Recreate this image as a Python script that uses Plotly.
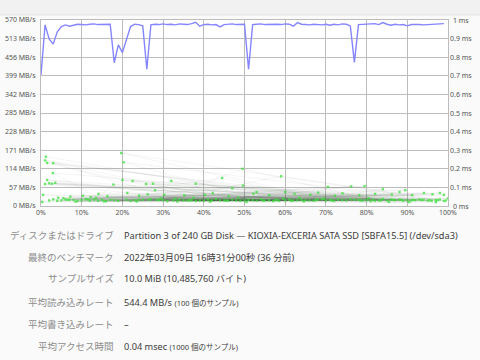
import plotly.graph_objects as go

# ---------------- data ----------------
x_ticks = [0, 10, 20, 30, 40, 50, 60, 70, 80, 90, 100]
x_tick_labels = ["0%", "10%", "20%", "30%", "40%", "50%", "60%", "70%", "80%", "90%", "100%"]
rate_ticks = [0, 57, 114, 171, 228, 285, 342, 399, 456, 513, 570]
rate_tick_labels = ["0 MB/s", "57 MB/s", "114 MB/s", "171 MB/s", "228 MB/s", "285 MB/s",
                    "342 MB/s", "399 MB/s", "456 MB/s", "513 MB/s", "570 MB/s"]
ms_ticks = [0, 0.1, 0.2, 0.3, 0.4, 0.5, 0.6, 0.7, 0.8, 0.9, 1.0]
ms_tick_labels = ["0 ms", "0.1 ms", "0.2 ms", "0.3 ms", "0.4 ms", "0.5 ms",
                  "0.6 ms", "0.7 ms", "0.8 ms", "0.9 ms", "1 ms"]

# read rate (MB/s) for the 100 samples, sample i at i %
read_pos = list(range(100))
read_rate = [
    402, 555, 512, 496, 534, 550, 555, 551, 554, 557,
    556, 555, 557, 558, 556, 557, 558, 557, 439, 494,
    470, 510, 550, 557, 556, 552, 419, 555, 557, 556,
    558, 556, 557, 555, 558, 557, 556, 559, 563, 551,
    556, 557, 555, 556, 549, 556, 557, 558, 556, 557,
    557, 419, 556, 557, 558, 556, 557, 558, 557, 556,
    558, 557, 551, 562, 557, 556, 555, 557, 556, 555,
    557, 554, 557, 555, 558, 557, 552, 440, 556, 557,
    558, 557, 559, 556, 562, 557, 554, 557, 555, 556,
    552, 556, 557, 556, 555, 556, 557, 556, 557, 559,
]

# access time samples (position %, ms), in the order they were taken
access_pos = [
    1.2, 63, 14, 88, 35, 3.0, 76, 22, 51, 95,
    8, 67, 41, 1.5, 83, 29, 57, 11, 92, 46,
    1.0, 71, 19.7, 99, 33, 5, 79, 25, 60, 16,
    2.9, 86, 38, 54, 20.3, 97, 12, 69, 44, 81,
    1.5, 49, 27, 91, 6, 74, 36, 58, 18, 84,
    2.0, 65, 31, 98, 20.0, 53, 9, 78, 43, 89,
    3.5, 61, 23, 94, 39, 1.0, 72, 47, 15, 87,
    2.7, 56, 34, 96, 22.5, 68, 4, 80, 48, 13,
    17.8, 90, 27.5, 64, 28.0, 85, 32.0, 52, 25.8, 93,
    38.0, 70, 44.5, 7, 47.0, 82, 49.5, 30, 59.0, 99.5,
    49.6, 10, 76.2, 42, 79.5, 24, 70.5, 66, 84.0, 3,
    89.5, 37, 98.0, 55, 53.0, 21, 60.0, 75, 0.5, 93.5,
    4.2, 62, 7.2, 86.5, 10.3, 45, 12.2, 77, 14.1, 58.5,
    16.3, 91.5, 21.2, 50, 24.1, 73, 26.2, 97.5, 30.3, 40,
    35.2, 81.5, 40.3, 2, 42.2, 67.5, 46.1, 19, 52.2, 88.5,
    56.1, 32.5, 62.3, 95.5, 66.2, 6.5, 68.1, 54.5, 72.2, 28.5,
    74.1, 83.5, 78.2, 11.5, 82.1, 61.5, 86.2, 36.5, 88.1, 71.5,
    91.2, 17, 94.1, 45.5, 96.2, 26.5, 99.0, 57.5, 0.3, 78.5,
    33.5, 90.5, 8.5, 64.5, 50.5, 23.5, 97, 41.5, 15.5, 85.5,
    5.5, 69.5, 37.5, 100, 13.5, 59.5, 48.5, 80.5, 29.5, 63.5,
]
access_ms = [
    0.265, 0.031, 0.028, 0.034, 0.030, 0.230, 0.036, 0.027, 0.033, 0.029,
    0.032, 0.028, 0.035, 0.232, 0.030, 0.033, 0.026, 0.037, 0.031, 0.029,
    0.245, 0.033, 0.285, 0.027, 0.038, 0.030, 0.029, 0.034, 0.031, 0.026,
    0.177, 0.035, 0.027, 0.036, 0.235, 0.032, 0.029, 0.037, 0.031, 0.026,
    0.140, 0.028, 0.036, 0.030, 0.035, 0.031, 0.029, 0.034, 0.031, 0.038,
    0.122, 0.030, 0.026, 0.035, 0.140, 0.029, 0.027, 0.033, 0.037, 0.028,
    0.125, 0.035, 0.031, 0.033, 0.029, 0.118, 0.027, 0.034, 0.033, 0.031,
    0.120, 0.031, 0.035, 0.028, 0.135, 0.034, 0.028, 0.032, 0.030, 0.034,
    0.115, 0.030, 0.120, 0.033, 0.085, 0.029, 0.135, 0.031, 0.118, 0.035,
    0.120, 0.030, 0.150, 0.033, 0.095, 0.028, 0.200, 0.032, 0.160, 0.030,
    0.110, 0.031, 0.105, 0.029, 0.107, 0.034, 0.103, 0.030, 0.090, 0.036,
    0.085, 0.031, 0.070, 0.029, 0.075, 0.034, 0.075, 0.030, 0.060, 0.032,
    0.045, 0.029, 0.050, 0.033, 0.055, 0.030, 0.048, 0.034, 0.065, 0.028,
    0.052, 0.033, 0.070, 0.030, 0.055, 0.035, 0.063, 0.031, 0.060, 0.029,
    0.058, 0.034, 0.060, 0.030, 0.070, 0.032, 0.052, 0.028, 0.066, 0.033,
    0.058, 0.030, 0.065, 0.031, 0.060, 0.034, 0.072, 0.029, 0.055, 0.033,
    0.068, 0.030, 0.058, 0.035, 0.065, 0.028, 0.062, 0.032, 0.075, 0.030,
    0.058, 0.033, 0.070, 0.029, 0.063, 0.034, 0.060, 0.031, 0.022, 0.030,
    0.024, 0.021, 0.023, 0.025, 0.022, 0.024, 0.021, 0.023, 0.025, 0.022,
    0.042, 0.040, 0.044, 0.041, 0.043, 0.040, 0.045, 0.042, 0.041, 0.044,
]

info_labels = ["ディスクまたはドライブ", "最終のベンチマーク", "サンプルサイズ",
               "平均読み込みレート", "平均書き込みレート", "平均アクセス時間"]
info_values = ["Partition 3 of 240 GB Disk — KIOXIA-EXCERIA SATA SSD [SBFA15.5] (/dev/sda3)",
               "2022年03月09日 16時31分00秒 (36 分前)",
               "10.0 MiB (10,485,760 バイト)",
               "544.4 MB/s",
               "–",
               "0.04 msec"]
info_notes = ["", "", "", "(100 個のサンプル)", "", "(1000 個のサンプル)"]

# ---------------- layout helpers ----------------
W, H = 480, 360
L, R, T, B = 41, 32, 20, 154
PW = W - L - R
PH = H - T - B

def px_x(px):
    return (px - L) / PW

def px_y(py):
    return (H - B - py) / PH

FONT = "Noto Sans, Noto Sans CJK JP, sans-serif"
CJK = "Noto Sans CJK JP, Noto Sans, sans-serif"
GRID = "#bcbcbc"
TICKFONT = dict(family=FONT, size=7, color="#555555")

fig = go.Figure()

fig.add_trace(go.Scatter(
    x=access_pos, y=access_ms, yaxis="y2", mode="lines",
    line=dict(color="rgba(30,50,30,0.08)", width=0.7),
    hoverinfo="skip", showlegend=False))
fig.add_trace(go.Scatter(
    x=access_pos, y=access_ms, yaxis="y2", mode="markers",
    marker=dict(color="rgba(60,225,60,0.75)", size=2.4, symbol="square", line=dict(width=0)),
    showlegend=False))
fig.add_trace(go.Scatter(
    x=read_pos, y=read_rate, yaxis="y", mode="lines",
    line=dict(color="#8585ff", width=1.4),
    showlegend=False))

annotations = []
for v, t in zip(ms_ticks, ms_tick_labels):
    annotations.append(dict(x=px_x(461), xref="paper", y=v, yref="y2", text=t,
                            showarrow=False, xanchor="center", yanchor="middle",
                            font=TICKFONT))

row_y = [235, 257, 278, 302, 324, 346]
for py, lab, val, note in zip(row_y, info_labels, info_values, info_notes):
    annotations.append(dict(x=px_x(116), xref="paper", y=px_y(py), yref="paper",
                            text=lab, showarrow=False, xanchor="right", yanchor="middle",
                            font=dict(family=CJK, size=9.5, color="#8c8c8c")))
    txt = val
    if note:
        txt += ' <span style="font-size:7.5px">' + note + '</span>'
    annotations.append(dict(x=px_x(122), xref="paper", y=px_y(py), yref="paper",
                            text=txt, showarrow=False, xanchor="left", yanchor="middle",
                            font=dict(family=FONT, size=9.2, color="#3c3c3c")))

shapes = [
    dict(type="rect", xref="paper", yref="paper", x0=px_x(-5), x1=px_x(W + 5),
         y0=px_y(15), y1=px_y(-5), fillcolor="#f1f1f1", line=dict(width=0), layer="below"),
    dict(type="line", xref="paper", yref="paper", x0=px_x(-5), x1=px_x(W + 5),
         y0=px_y(15), y1=px_y(15), line=dict(color="#e4e4e4", width=1)),
]

fig.update_layout(
    width=W, height=H,
    margin=dict(l=L, r=R, t=T, b=B, pad=0, autoexpand=False),
    paper_bgcolor="#fafafa", plot_bgcolor="#ffffff",
    font=dict(family=FONT, size=7, color="#555555"),
    xaxis=dict(range=[0, 100], tickvals=x_ticks, ticktext=x_tick_labels,
               showgrid=True, gridcolor=GRID, gridwidth=1, zeroline=False,
               showline=True, linecolor=GRID, mirror=True, ticks="",
               automargin=False, tickfont=TICKFONT, fixedrange=True),
    yaxis=dict(range=[0, 570], tickvals=rate_ticks, ticktext=rate_tick_labels,
               showgrid=True, gridcolor=GRID, gridwidth=1, zeroline=False,
               showline=True, linecolor=GRID, mirror=True, ticks="",
               automargin=False, ticklabelstandoff=3, tickfont=TICKFONT),
    yaxis2=dict(range=[0, 1], overlaying="y", side="right", showgrid=False,
                automargin=False, zeroline=False, showticklabels=False, ticks=""),
    annotations=annotations,
    shapes=shapes,
    showlegend=False,
)

fig.write_html("out.html")
